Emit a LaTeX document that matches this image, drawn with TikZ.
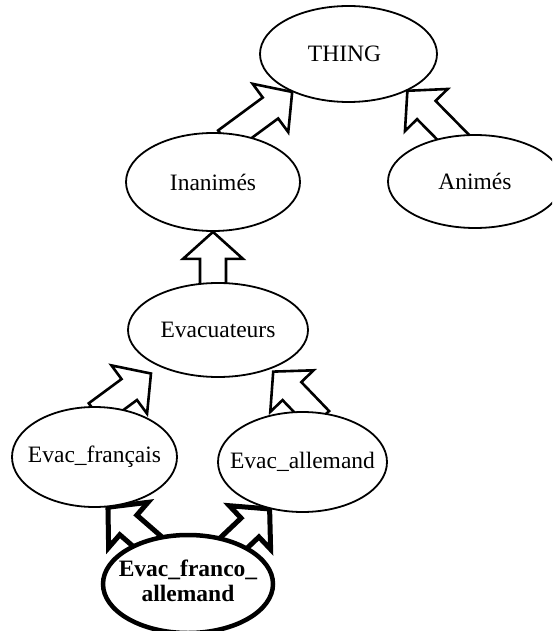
\documentclass[tikz,border=0pt]{standalone}
\usepackage{fontspec}
\setmainfont{Liberation Serif}
\usetikzlibrary{calc,shapes.geometric,backgrounds}
\newcommand\ArShaft{13pt}
\newcommand\ArHead{30pt}
\newcommand\ArLen{27pt}
\newcommand\zw[1]{\makebox[0pt]{#1}}
\tikzset{
  concept/.style={ellipse, draw, fill=white, line width=1.8pt, inner sep=0pt,
    font=\fontsize{23.5}{25}\selectfont},
  blockarrow/.style={draw, fill=white, line width=2.6pt, line join=miter,
    to path={
      ($(\tikztostart)!-12pt!(\tikztotarget)!\ArShaft!90:(\tikztotarget)$)
      -- ($(\tikztotarget)!\ArLen!(\tikztostart)!\ArShaft!90:(\tikztotarget)$)
      -- ($(\tikztotarget)!\ArLen!(\tikztostart)!\ArHead!90:(\tikztotarget)$)
      -- (\tikztotarget)
      -- ($(\tikztotarget)!\ArLen!(\tikztostart)!\ArHead!-90:(\tikztotarget)$)
      -- ($(\tikztotarget)!\ArLen!(\tikztostart)!\ArShaft!-90:(\tikztotarget)$)
      -- ($(\tikztostart)!-12pt!(\tikztotarget)!\ArShaft!-90:(\tikztotarget)$)
      -- cycle}},
  thickarrow/.style={blockarrow, line width=5pt},
}
\begin{document}
\begin{tikzpicture}[x=1pt, y=-1pt]
\useasboundingbox (0,0) rectangle (552,631);
\clip (0,0) rectangle (552,631);
% concepts
\node[concept, minimum width=177pt, minimum height=96pt] (thing) at (348.5,54) {\zw{\hspace*{-8pt}THING}};
\node[concept, minimum width=174pt, minimum height=98pt] (inan) at (213,182) {\zw{Inanimés}};
\node[concept, minimum width=174pt, minimum height=93pt] (anim) at (475,181.5) {\zw{Animés}};
\node[concept, minimum width=180pt, minimum height=94pt] (evac) at (218,330) {\zw{Evacuateurs}};
\node[concept, minimum width=165pt, minimum height=100pt] (evfr) at (94.5,457) {\zw{Evac\_français}};
\node[concept, minimum width=169pt, minimum height=100pt] (eval) at (302.5,462) {\zw{Evac\_allemand}};
\node[concept, line width=4.5pt, minimum width=170pt, minimum height=98pt,
      font=\bfseries\fontsize{23.5}{25}\selectfont] (franco) at (188,584)
      {\zw{\begin{tabular}{@{}c@{}}Evac\_franco\_\\allemand\end{tabular}}};
% free tips of the arrows that stop short of their target
\coordinate (tipfr) at ($(evac.center)!1.17!(evac.213)$);
\coordinate (tipal) at ($(evac.center)!1.06!(evac.-37)$);
\begin{pgfonlayer}{background}
\draw[blockarrow] (inan.65) to (thing.214);
\draw[blockarrow] (anim.117) to (thing.-32);
\draw[blockarrow] (evac.96) to (inan.-90);
\draw[blockarrow] (evfr.77) to (tipfr);
\draw[blockarrow] (eval.80) to (tipal);
\draw[thickarrow] (franco.134) to (evfr.-75);
\draw[thickarrow] (franco.42) to (eval.235);
\end{pgfonlayer}
\end{tikzpicture}
\end{document}
